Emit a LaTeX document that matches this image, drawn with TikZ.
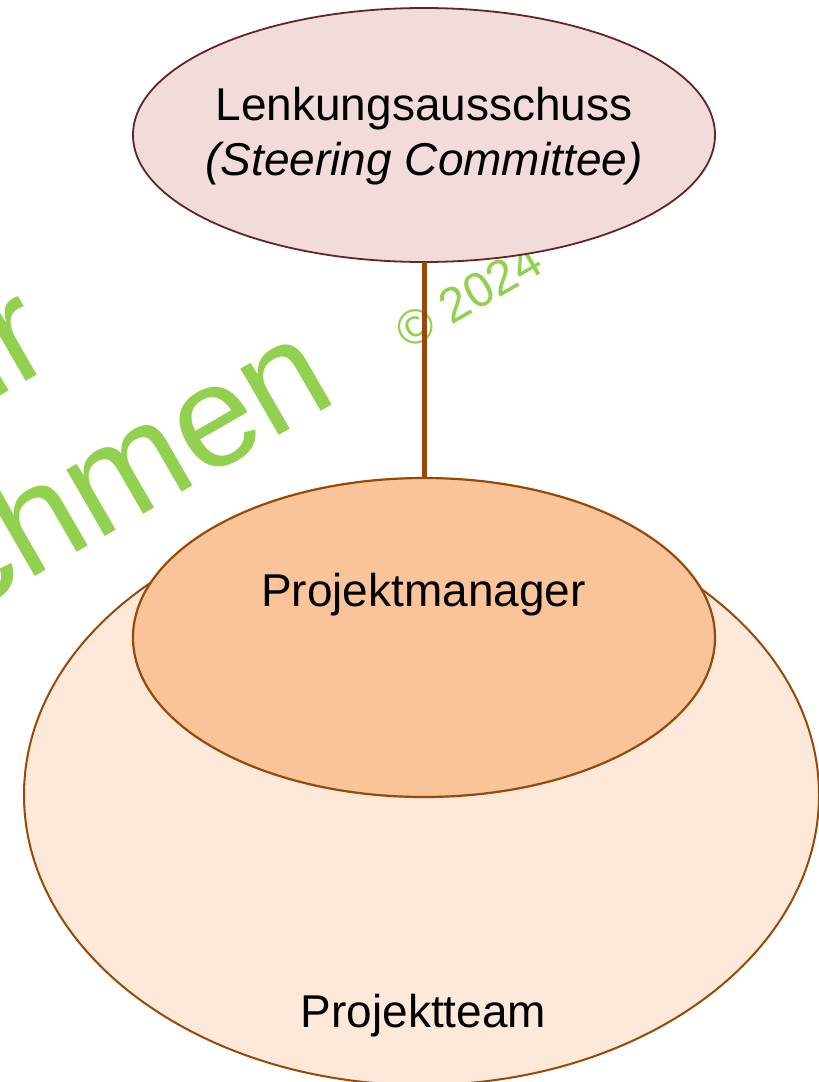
\documentclass[tikz,border=0pt]{standalone}
\usepackage{fontspec}
\setmainfont{Liberation Sans}
\usetikzlibrary{shapes.geometric}

\definecolor{steerfill}{HTML}{F2DCDB}
\definecolor{steerline}{HTML}{632523}
\definecolor{pmfill}{HTML}{F9C49A}
\definecolor{teamfill}{HTML}{FDE9D9}
\definecolor{brownline}{HTML}{984807}
\definecolor{wmgreen}{HTML}{92D050}

\tikzset{
  oval/.style={ellipse, inner sep=0pt, outer sep=0pt},
  lbl/.style={font=\fontsize{46}{55}\selectfont, text=black, align=center, inner sep=0pt},
  wmbig/.style={font=\fontsize{145}{160}\selectfont, text=wmgreen, rotate=30, inner sep=0pt},
  wmsmall/.style={font=\fontsize{49}{55}\selectfont, text=wmgreen, rotate=30, inner sep=0pt}
}

\begin{document}
\begin{tikzpicture}[x=1pt, y=-1pt]
\clip (0,0) rectangle (819,1082);
\fill[white] (0,0) rectangle (819,1082);

% watermark lettering behind the chart
\node[wmbig, anchor=base east] (wm1) at (59.6,362) {ür};
\node[wmbig, anchor=base east] (wm2) at (341,400) {chmen};
\node[wmsmall, anchor=base west] (wm3) at (408.2,350.2) {© 2024};

% project team (large ellipse)
\node[oval, draw=brownline, line width=2pt, fill=teamfill,
      minimum width=795pt, minimum height=580pt] (team) at (421.5,795) {};
% project manager
\node[oval, draw=brownline, line width=2.2pt, fill=pmfill,
      minimum width=582pt, minimum height=319pt] (pm) at (424,637.5) {};
% steering committee
\node[oval, draw=steerline, line width=1.8pt, fill=steerfill,
      minimum width=582pt, minimum height=254pt] (steer) at (424,135) {};

\node[lbl] (steertxt) at (424,136) {Lenkungsausschuss\\\textit{(Steering Committee)}};
\node[lbl, anchor=base] (pmtxt) at (423.5,606) {Projektmanager};
\node[lbl, anchor=base] (teamtxt) at (423.5,1027) {Projektteam};

% reporting line
\draw[brownline, line width=5pt] (steer.south) -- (pm.north);
\end{tikzpicture}
\end{document}
